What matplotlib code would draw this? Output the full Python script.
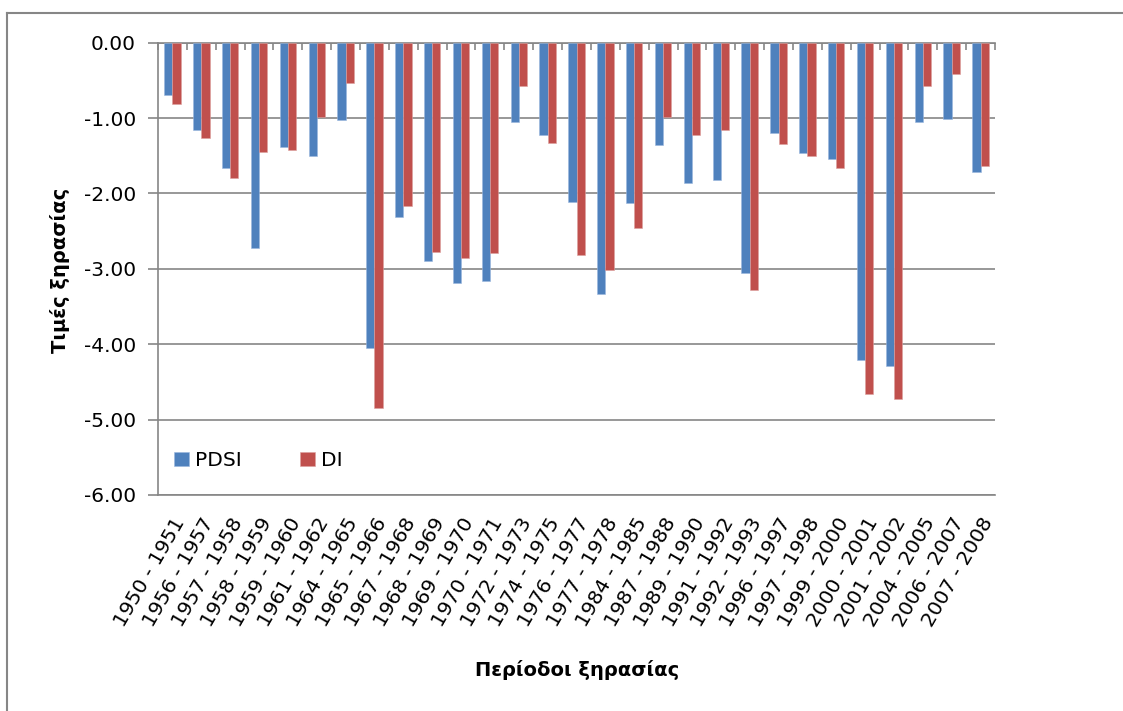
import numpy as np
import matplotlib.pyplot as plt
from matplotlib.lines import Line2D

plt.rcParams['font.family'] = ['DejaVu Sans']

# drought periods and index values
periods = ['1950 - 1951', '1956 - 1957', '1957 - 1958', '1958 - 1959', '1959 - 1960',
           '1961 - 1962', '1964 - 1965', '1965 - 1966', '1967 - 1968', '1968 - 1969',
           '1969 - 1970', '1970 - 1971', '1972 - 1973', '1974 - 1975', '1976 - 1977',
           '1977 - 1978', '1984 - 1985', '1987 - 1988', '1989 - 1990', '1991 - 1992',
           '1992 - 1993', '1996 - 1997', '1997 - 1998', '1999 - 2000', '2000 - 2001',
           '2001 - 2002', '2004 - 2005', '2006 - 2007', '2007 - 2008']
pdsi = [-0.69, -1.16, -1.66, -2.72, -1.39, -1.50, -1.03, -4.05, -2.31, -2.90,
        -3.19, -3.16, -1.05, -1.23, -2.11, -3.34, -2.13, -1.36, -1.86, -1.82,
        -3.06, -1.20, -1.46, -1.54, -4.21, -4.29, -1.05, -1.01, -1.71]
di = [-0.81, -1.27, -1.79, -1.45, -1.42, -0.99, -0.53, -4.84, -2.16, -2.77,
      -2.85, -2.79, -0.58, -1.33, -2.81, -3.01, -2.46, -0.99, -1.23, -1.16,
      -3.28, -1.34, -1.50, -1.66, -4.66, -4.72, -0.58, -0.41, -1.64]
yticks = [0, -1, -2, -3, -4, -5, -6]

W, H = 1123, 711
fig = plt.figure(figsize=(W / 100, H / 100), dpi=100)
ax = fig.add_axes([158 / W, 1 - 495 / H, (995 - 158) / W, (495 - 42.7) / H])

gray = '#868686'
blue = '#4F81BD'
red = '#C0504D'

x = np.arange(len(periods))
bw = 0.285
ax.bar(x - bw / 2, pdsi, bw, color=blue, edgecolor='#9BB7DD', linewidth=0.4, zorder=3, label='PDSI')
ax.bar(x + bw / 2, di, bw, color=red, edgecolor='#DDA09E', linewidth=0.4, zorder=3, label='DI')

ax.set_xlim(-0.5, len(periods) - 0.5)
ax.set_ylim(-6, 0)
ax.set_yticks(yticks)
ax.set_yticklabels(['%.2f' % v for v in yticks], fontsize=14.5)
ax.yaxis.grid(True, color=gray, linewidth=1.2, zorder=0)
ax.tick_params(axis='y', length=7, width=1.2, color=gray, pad=9)

ax.set_xticks(x)
ax.set_xticklabels(periods, rotation=60, ha='right', rotation_mode='anchor', fontsize=14.5)
ax.tick_params(axis='x', which='major', length=0, pad=14)
ax.set_xticks(np.arange(-0.5, len(periods)), minor=True)
ax.tick_params(axis='x', which='minor', top=True, bottom=False, direction='in',
               length=5, width=1.2, color=gray)

for s in ['left', 'top', 'bottom']:
    ax.spines[s].set_color(gray)
    ax.spines[s].set_linewidth(1.2)
ax.spines['right'].set_visible(False)

fig.text(577 / W, 1 - 670 / H, 'Περίοδοι ξηρασίας', fontsize=14, fontweight='bold',
         ha='center', va='center')
fig.text(60 / W, 1 - 270 / H, 'Τιμές ξηρασίας', fontsize=14, fontweight='bold',
         ha='center', va='center', rotation=90)

ax.legend(loc='center left', bbox_to_anchor=(0.019, 0.076), ncol=2, frameon=False,
          fontsize=14.5, handlelength=0.75, handleheight=0.75, handletextpad=0.3,
          columnspacing=2.9, borderpad=0, borderaxespad=0)

# chart area border
fig.add_artist(Line2D([7 / W, 7 / W], [0, 1 - 13 / H], color=gray, linewidth=1.5))
fig.add_artist(Line2D([7 / W, 1], [1 - 13 / H, 1 - 13 / H], color=gray, linewidth=1.5))

fig.savefig('out.png', dpi=100)
